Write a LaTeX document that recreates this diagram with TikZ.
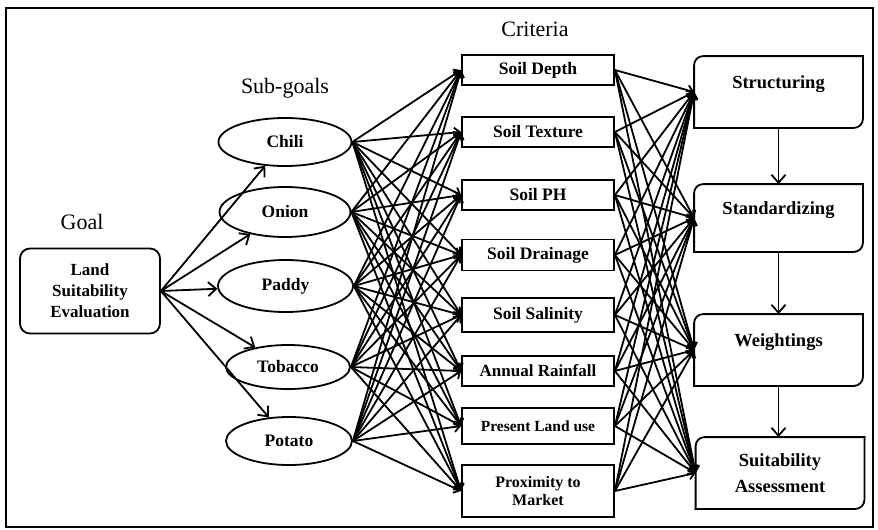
\documentclass[tikz,border=0pt]{standalone}
\usepackage{fontspec}
\setmainfont{Liberation Serif}
\usetikzlibrary{shapes.geometric,arrows.meta}
\begin{document}
\begin{tikzpicture}[x=1pt,y=-1pt,
  line width=1.8pt,
  goalbox/.style={draw, rounded corners=10pt, minimum width=140pt, minimum height=85pt, align=center, inner sep=0pt, font=\fontsize{17}{21}\selectfont\bfseries},
  subgoal/.style={draw, ellipse, inner sep=0pt, font=\fontsize{17.5}{20}\selectfont\bfseries},
  crit/.style={draw, rectangle, minimum width=152pt, inner sep=0pt, align=center, font=\fontsize{17.5}{18}\selectfont\bfseries},
  stagebox/.style={rectangle, minimum width=167pt, inner sep=0pt, align=center, font=\fontsize{18.5}{26}\selectfont\bfseries},
  stageedge/.style={rounded corners=9pt, line cap=rect},
  stagetext/.style={text height=13pt, text depth=20pt},
  heading/.style={font=\fontsize{22}{24}\selectfont},
  openarrow/.style={-{Straight Barb[length=8pt,width=14pt,line width=1.8pt]}},
  fillarrow/.style={-{Straight Barb[length=5.5pt,width=10pt,line width=1.8pt]}},
]
\useasboundingbox (0,0) rectangle (878,530);
\fill[white] (0,0) rectangle (878,530);
\draw[line width=2.6pt] (6,8) rectangle (873,527);

% headings
\node[heading] (goallbl) at (82,222) {Goal};
\node[heading] (sublbl) at (285,88) {Sub-goals};
\node[heading] (critlbl) at (535,29) {Criteria};

% goal
\node[goalbox] (goal) at (90,291) {Land\\Suitability\\Evaluation};

% sub-goals
\node[subgoal, minimum width=133pt, minimum height=48pt] (chili) at (285,142) {Chili};
\node[subgoal, minimum width=131pt, minimum height=50pt] (onion) at (285,212) {Onion};
\node[subgoal, minimum width=135pt, minimum height=52pt] (paddy) at (285.5,286) {Paddy};
\node[subgoal, minimum width=124pt, minimum height=44pt] (tobacco) at (288,367) {Tobacco};
\node[subgoal, minimum width=126pt, minimum height=48pt] (potato) at (289,441) {Potato};

% criteria
\node[crit, minimum height=30pt] (c1) at (538,70) {Soil Depth};
\node[crit, minimum height=30pt] (c2) at (538,132) {Soil Texture};
\node[crit, minimum height=30pt] (c3) at (538,195) {Soil PH};
\node[crit, minimum height=31pt] (c4) at (538,255) {Soil Drainage};
\node[crit, minimum height=34pt] (c5) at (538,315) {Soil Salinity};
\node[crit, minimum height=30pt, font=\fontsize{17}{18}\selectfont\bfseries] (c6) at (538,371) {Annual Rainfall};
\node[crit, minimum height=36pt, font=\fontsize{15.5}{18}\selectfont\bfseries] (c7) at (538,426) {Present Land use};
\node[crit, minimum height=52pt, font=\fontsize{16}{18}\selectfont\bfseries] (c8) at (538,491) {Proximity to\\Market};

% stages
\node[stagebox, stagetext, minimum height=70pt] (s1) at (778.5,92) {Structuring};
\node[stagebox, stagetext, minimum height=66pt] (s2) at (778.5,218) {Standardizing};
\node[stagebox, stagetext, minimum height=70pt] (s3) at (778.5,350) {Weightings};
\node[stagebox, minimum height=70pt] (s4) at (780,473) {Suitability\\Assessment};
\foreach \r in {s1,s2,s3,s4} {
  \draw[stageedge] (\r.south west) -- (\r.north west) -- (\r.north east);
  \draw[stageedge] (\r.north east) -- (\r.south east) -- (\r.south west);
}

% goal -> sub-goals
\foreach \s in {chili,onion,paddy,tobacco,potato}
  \draw[openarrow] (goal.east) -- (\s);

% sub-goals -> criteria
\foreach \s in {chili,onion,paddy,tobacco,potato}
  \foreach \c in {c1,c2,c3,c4,c5,c6,c7,c8}
    \draw[fillarrow] (\s.east) -- (\c.west);

% criteria -> stages
\foreach \c in {c1,c2,c3,c4,c5,c6,c7,c8}
  \foreach \r in {s1,s2,s3,s4}
    \draw[fillarrow] (\c.east) -- (\r.west);

% stage chain
\draw[openarrow] (s1.south) -- (s1.south |- s2.north);
\draw[openarrow] (s2.south) -- (s2.south |- s3.north);
\draw[openarrow] (s3.south) -- (s3.south |- s4.north);
\end{tikzpicture}
\end{document}
